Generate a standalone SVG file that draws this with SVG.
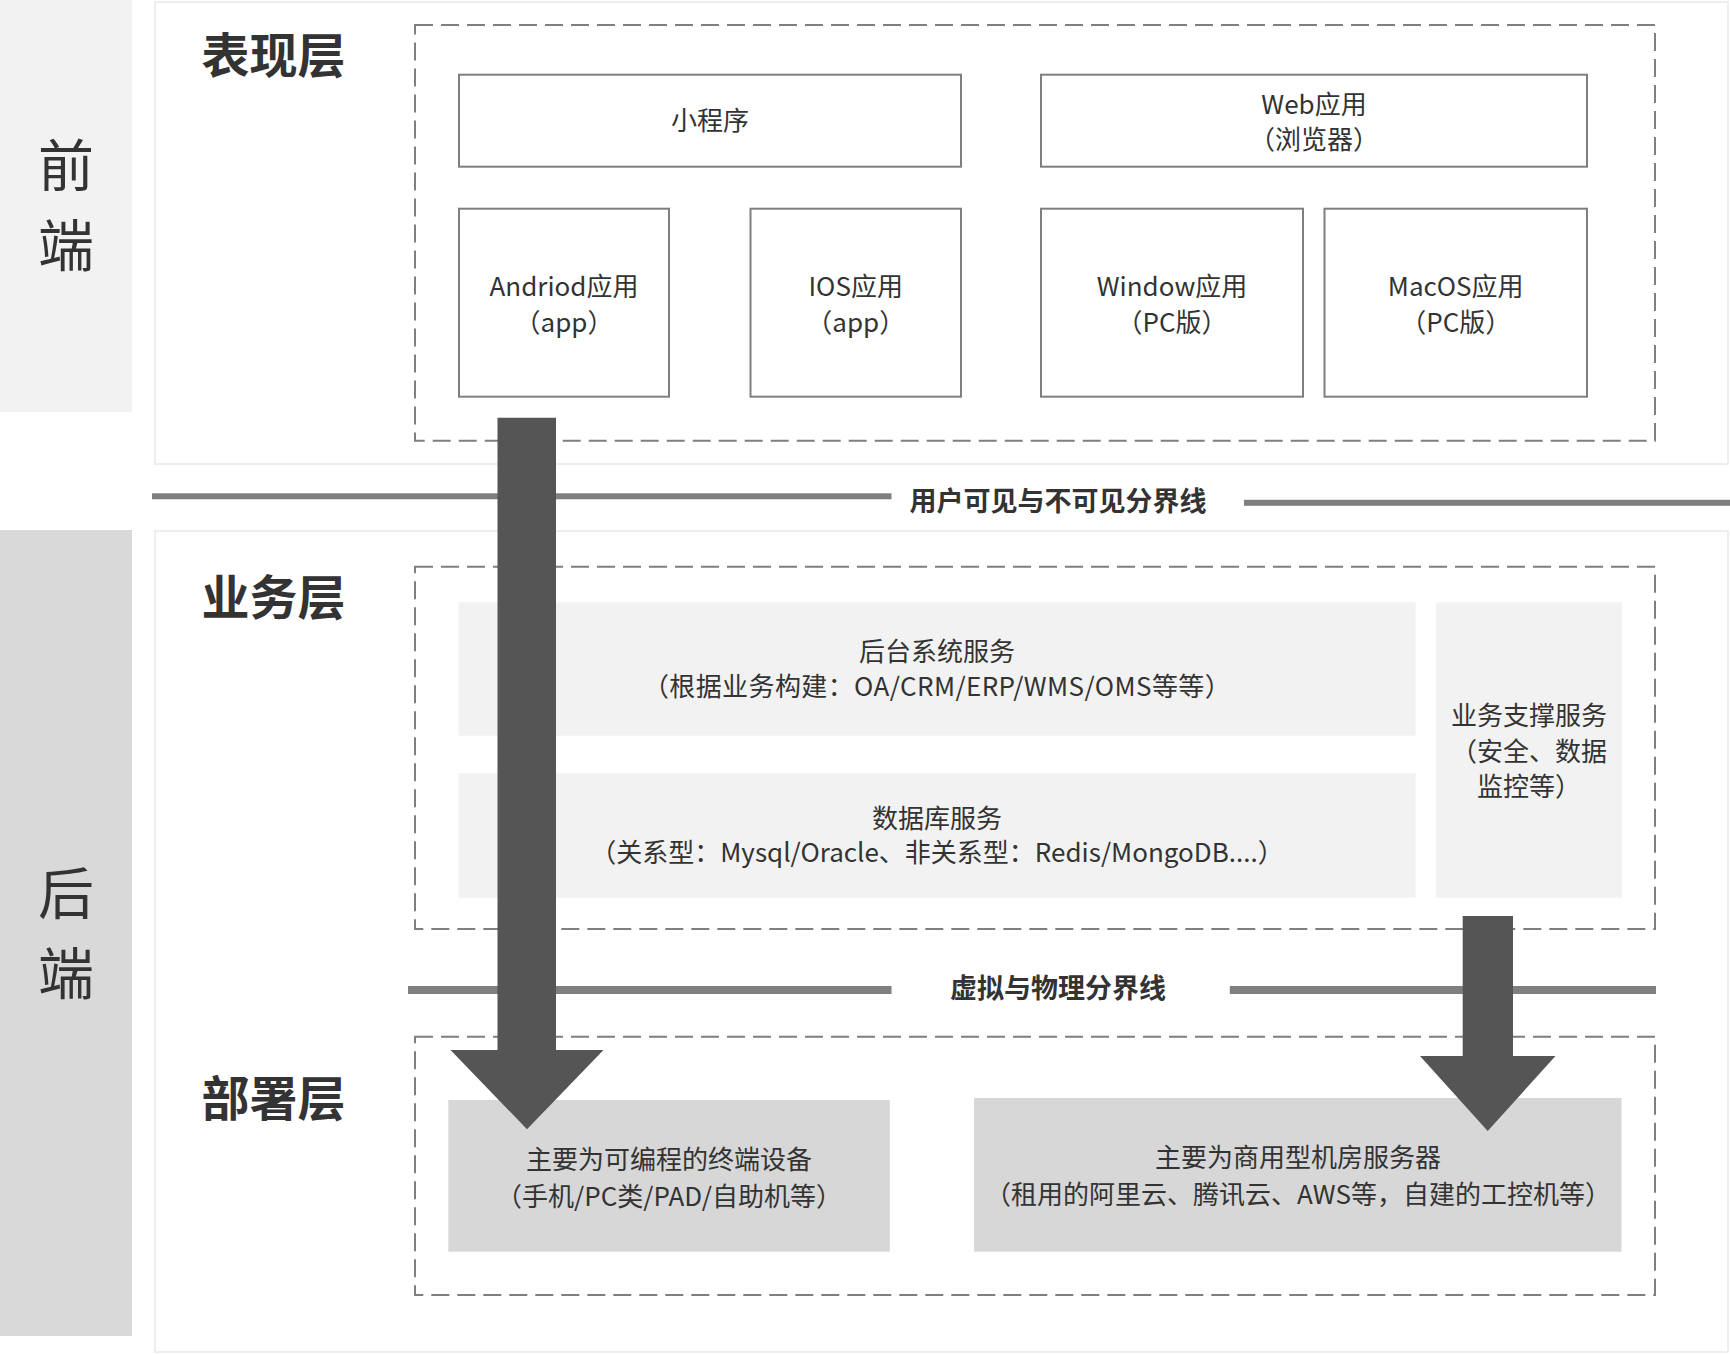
<svg xmlns="http://www.w3.org/2000/svg" width="1730" height="1354" viewBox="0 0 1730 1354">
<style>
text{font-family:"Noto Sans CJK SC","Noto Sans",sans-serif;fill:#333333;text-anchor:middle;dominant-baseline:central}
.side{font-size:56px}
.title{font-size:48px;font-weight:bold}
.t{font-size:26px}
.div{font-size:27px;font-weight:bold}
.panel{fill:#ffffff;stroke:#eeeeee;stroke-width:2}
.dash{fill:none;stroke:#7f7f7f;stroke-width:2;stroke-dasharray:18 8}
.box{fill:#ffffff;stroke:#7f7f7f;stroke-width:2}
.svc{fill:#f2f2f2}
.dep{fill:#d7d7d7}
.line{fill:#7f7f7f}
.arrow{fill:#555555}
</style>
<rect width="1730" height="1354" fill="#ffffff"/>
<g id="frontend-band">
<rect x="0" y="0" width="132" height="412" fill="#f2f2f2"/>
<text class="side" x="66" y="161">前</text>
<text class="side" x="66" y="241">端</text>
</g>
<g id="backend-band">
<rect x="0" y="530" width="132" height="806" fill="#d9d9d9"/>
<text class="side" x="66" y="889">后</text>
<text class="side" x="66" y="969">端</text>
</g>
<rect class="panel" x="155" y="2" width="1573" height="462"/>
<rect class="panel" x="155" y="531" width="1573" height="821"/>
<g id="presentation-layer">
<text class="title" x="273.5" y="52">表现层</text>
<rect class="dash" x="415" y="25" width="1240" height="415.7"/>
</g>
<g id="miniprogram">
<rect class="box" x="459" y="74.7" width="502" height="92"/>
<text class="t" x="710" y="118.5">小程序</text>
</g>
<g id="webapp">
<rect class="box" x="1041" y="74.7" width="546" height="92"/>
<text class="t" x="1314" y="102.5">Web应用</text>
<text class="t" x="1314" y="137.5">（浏览器）</text>
</g>
<g id="android">
<rect class="box" x="459" y="208.7" width="210" height="188"/>
<text class="t" x="564" y="284.5">Andriod应用</text>
<text class="t" x="564" y="320.5">（app）</text>
</g>
<g id="ios">
<rect class="box" x="750.5" y="208.7" width="210.5" height="188"/>
<text class="t" x="855.7" y="284.5">IOS应用</text>
<text class="t" x="855.7" y="320.5">（app）</text>
</g>
<g id="windows">
<rect class="box" x="1041" y="208.7" width="262" height="188"/>
<text class="t" x="1172" y="284.5">Window应用</text>
<text class="t" x="1172" y="320.5">（PC版）</text>
</g>
<g id="macos">
<rect class="box" x="1324.5" y="208.7" width="262.5" height="188"/>
<text class="t" x="1455.7" y="284.5">MacOS应用</text>
<text class="t" x="1455.7" y="320.5">（PC版）</text>
</g>
<g id="divider-visible">
<rect class="line" x="152" y="493.3" width="739.5" height="6"/>
<rect class="line" x="1244" y="499.8" width="486" height="6"/>
<text class="div" x="1058" y="499">用户可见与不可见分界线</text>
</g>
<g id="business-layer">
<text class="title" x="273.5" y="593.5">业务层</text>
<rect class="dash" x="415" y="566.7" width="1240" height="362.3"/>
</g>
<g id="backend-services">
<rect class="svc" x="458.5" y="602.3" width="957.2" height="133.4"/>
<text class="t" x="937" y="649.5">后台系统服务</text>
<text class="t" x="937" y="684.5" letter-spacing="0.4">（根据业务构建：OA/CRM/ERP/WMS/OMS等等）</text>
</g>
<g id="database-services">
<rect class="svc" x="458.5" y="773.3" width="957.2" height="124.4"/>
<text class="t" x="937" y="816">数据库服务</text>
<text class="t" x="937" y="850.5">（关系型：Mysql/Oracle、非关系型：Redis/MongoDB....）</text>
</g>
<g id="support-services">
<rect class="svc" x="1436" y="602.3" width="186" height="295.4"/>
<text class="t" x="1529" y="713.5">业务支撑服务</text>
<text class="t" x="1529" y="749">（安全、数据</text>
<text class="t" x="1529" y="784">监控等）</text>
</g>
<g id="divider-physical">
<rect class="line" x="408" y="986" width="483.5" height="8"/>
<rect class="line" x="1229.8" y="986" width="426.2" height="8"/>
<text class="div" x="1058" y="986">虚拟与物理分界线</text>
</g>
<g id="deployment-layer">
<text class="title" x="273.5" y="1094.5">部署层</text>
<rect class="dash" x="415" y="1036.7" width="1240" height="258.3"/>
</g>
<g id="terminal-devices">
<rect class="dep" x="448.3" y="1100" width="441.5" height="151.7"/>
<text class="t" x="669" y="1157.5">主要为可编程的终端设备</text>
<text class="t" x="669" y="1194">（手机/PC类/PAD/自助机等）</text>
</g>
<g id="servers">
<rect class="dep" x="974" y="1098" width="647.5" height="153.7"/>
<text class="t" x="1298" y="1155.5">主要为商用型机房服务器</text>
<text class="t" x="1298" y="1192.5">（租用的阿里云、腾讯云、AWS等，自建的工控机等）</text>
</g>
<g id="connectors">
<path class="arrow" d="M497.5 417.7 H556 V1050 H603.5 L527 1129.3 L450.5 1050 H497.5 Z"/>
<path class="arrow" d="M1462.7 916 H1513 V1056 H1555.5 L1487.7 1131 L1420 1056 H1462.7 Z"/>
</g>
</svg>
